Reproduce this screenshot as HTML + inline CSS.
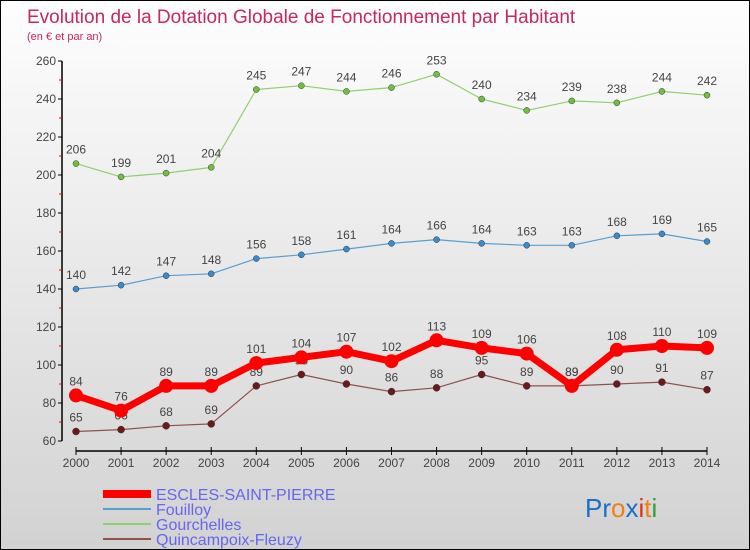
<!DOCTYPE html>
<html><head><meta charset="utf-8"><style>
body{margin:0}
#wrap{width:750px;height:550px;position:relative;box-sizing:border-box;border:1px solid #000;background:linear-gradient(#fefefe,#d2d2d2);font-family:"Liberation Sans",sans-serif;overflow:hidden}
svg text{font-family:"Liberation Sans",sans-serif}
</style></head><body>
<div id="wrap">
<svg id="chart" width="750" height="550">
<text x="26" y="22" font-size="19" fill="#c8285a">Evolution de la Dotation Globale de Fonctionnement par Habitant</text>
<text x="26" y="39" font-size="11" fill="#c8285a">(en € et par an)</text>
<g id="axes"></g><g id="series"></g>
<g>
<line x1="102" y1="493" x2="150" y2="493" stroke="#f00" stroke-width="8"/>
<text x="155" y="499" font-size="16" fill="#6666ee">ESCLES-SAINT-PIERRE</text>
<line x1="102" y1="508" x2="150" y2="508" stroke="#5a9ed0" stroke-width="2"/>
<text x="155" y="514" font-size="16" fill="#6666ee">Fouilloy</text>
<line x1="102" y1="523" x2="150" y2="523" stroke="#90d070" stroke-width="2"/>
<text x="155" y="529" font-size="16" fill="#6666ee">Gourchelles</text>
<line x1="102" y1="538" x2="150" y2="538" stroke="#905050" stroke-width="2"/>
<text x="155" y="544" font-size="16" fill="#6666ee">Quincampoix-Fleuzy</text>
</g>
<text x="584" y="516" font-size="26"><tspan fill="#1a70c8">Pr</tspan><tspan fill="#f08010">o</tspan><tspan fill="#1a70c8">x</tspan><tspan fill="#e03010">i</tspan><tspan fill="#f08010">t</tspan><tspan fill="#30a030">i</tspan></text>
</svg>
</div>
<script>
const years=[2000,2001,2002,2003,2004,2005,2006,2007,2008,2009,2010,2011,2012,2013,2014];
const yTicks=[60,80,100,120,140,160,180,200,220,240,260];
const escles=[84,76,89,89,101,104,107,102,113,109,106,89,108,110,109];
const fouilloy=[140,142,147,148,156,158,161,164,166,164,163,163,168,169,165];
const gourchelles=[206,199,201,204,245,247,244,246,253,240,234,239,238,244,242];
const quincampoix=[65,66,68,69,89,95,90,86,88,95,89,89,90,91,87];
const NS="http://www.w3.org/2000/svg";
function xs(i){return 75+i*(706-75)/(years.length-1);}
function ys(v){return 440-(v-60)*1.9;}
function mk(t,a,p){const e=document.createElementNS(NS,t);for(const k in a)e.setAttribute(k,a[k]);p.appendChild(e);return e;}
const ax=document.getElementById('axes');
const yaxis=mk('line',{x1:61,y1:ys(260),x2:61,y2:ys(60),stroke:'#000','stroke-width':1.5},ax);


yTicks.forEach(v=>{
 mk('line',{x1:57,y1:ys(v),x2:61,y2:ys(v),stroke:'#000'},ax);
 if(v<260)mk('line',{x1:58,y1:ys(v+10),x2:61,y2:ys(v+10),stroke:'#e00'},ax);
 const t=mk('text',{x:55,y:ys(v)+4,'text-anchor':'end','font-size':12,fill:'#444'},ax);t.textContent=v;
 
 
});
const xaxis=mk('line',{x1:xs(0),y1:450,x2:xs(years.length-1),y2:450,stroke:'#000','stroke-width':1.5},ax);


years.forEach((y,i)=>{
 mk('line',{x1:xs(i),y1:446,x2:xs(i),y2:454,stroke:'#000'},ax);
 const t=mk('text',{x:xs(i),y:466,'text-anchor':'middle','font-size':12,fill:'#444'},ax);t.textContent=y;
 
 
});
const sg=document.getElementById('series');
function draw(data,color,w,r,dot,name){
 const g=mk('g',{},sg);
 
 
 const pl=mk('polyline',{points:data.map((v,i)=>xs(i)+','+ys(v)).join(' '),fill:'none',stroke:color,'stroke-width':w,'stroke-linejoin':'round'},g);
 
 
 data.forEach((v,i)=>{
  const c=mk('circle',{cx:xs(i),cy:ys(v),r:r,fill:dot,stroke:'#333','stroke-width':r>5?0:0.5},g);
  
  
  const t=mk('text',{x:xs(i),y:ys(v)-10,'text-anchor':'middle','font-size':12,fill:'#444'},g);t.textContent=v;
  
  
 });
}
draw(gourchelles,'#90d070',1.2,3,'#70c040','gourchelles');
draw(fouilloy,'#5a9ed0',1.2,3,'#3a8ad0','fouilloy');
draw(quincampoix,'#905050',1.2,3.5,'#6a1a1a','quincampoix');
draw(escles,'#f00',7,7,'#f00','escles');
</script>
</body></html>
